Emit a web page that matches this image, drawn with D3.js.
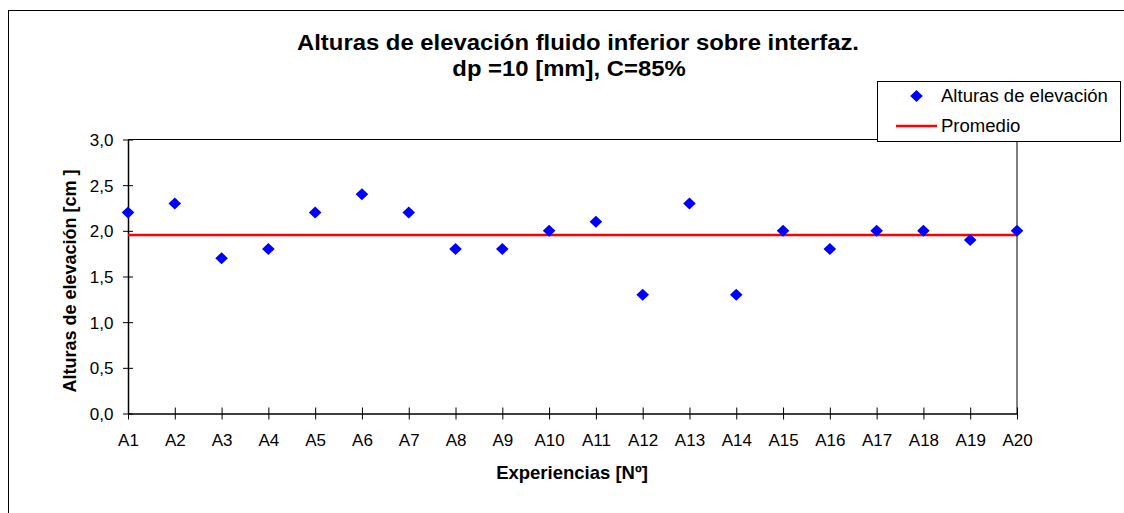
<!DOCTYPE html>
<html>
<head>
<meta charset="utf-8">
<script src="https://cdn.jsdelivr.net/npm/d3@7"></script>
<style>
  html, body { margin: 0; padding: 0; background: #fff; }
  svg { display: block; font-family: "Liberation Sans", Arial, sans-serif; }
</style>
</head>
<body>
<svg id="chart" width="1124" height="513"></svg>
<script>
const categories = ["A1","A2","A3","A4","A5","A6","A7","A8","A9","A10","A11","A12","A13","A14","A15","A16","A17","A18","A19","A20"];
const alturas = [2.2, 2.3, 1.7, 1.8, 2.2, 2.4, 2.2, 1.8, 1.8, 2.0, 2.1, 1.3, 2.3, 1.3, 2.0, 1.8, 2.0, 2.0, 1.9, 2.0];
const promedio = 1.955;
const yTicks = [0, 0.5, 1.0, 1.5, 2.0, 2.5, 3.0];
const titleLines = ["Alturas de elevación fluido inferior sobre interfaz.", "dp =10 [mm], C=85%"];
const xTitle = "Experiencias [Nº]";
const yTitle = "Alturas de elevación [cm ]";
const legendLabels = ["Alturas de elevación", "Promedio"];

const svg = d3.select("#chart");
const L = 128, R = 1017, T = 139.5, B = 413.5;

// outer border
svg.append("rect").attr("x", 8.5).attr("y", 10.5).attr("width", 1130).attr("height", 520)
  .attr("fill", "#fff").attr("stroke", "#000").attr("stroke-width", 1);

const x = d3.scalePoint().domain(categories).range([L, R]);
const y = d3.scaleLinear().domain([0, 3]).range([B, T]);

// plot area border (top & right)
svg.append("path").attr("d", `M${L},${T}H${R}V${B}`).attr("fill", "none")
  .attr("stroke", "#000").attr("stroke-width", 1);

// y axis
const yAxis = d3.axisLeft(y).tickValues(yTicks).tickSizeInner(5).tickSizeOuter(0)
  .tickFormat(d => d3.format(".1f")(d).replace(".", ","));
const gy = svg.append("g").attr("transform", `translate(${L},0)`).call(yAxis);
gy.select(".domain").attr("stroke", "#000").attr("stroke-width", 1.5);
gy.selectAll(".tick line").attr("x1", 5).attr("x2", -5).attr("stroke", "#000");
gy.selectAll(".tick text").attr("x", -14.5).attr("dy", "0.36em")
  .attr("font-size", "17px").attr("fill", "#000").attr("font-family", "Liberation Sans, Arial, sans-serif");

// x axis
const xAxis = d3.axisBottom(x).tickSizeInner(6).tickSizeOuter(0);
const gx = svg.append("g").attr("transform", `translate(0,${B})`).call(xAxis);
gx.select(".domain").attr("stroke", "#000").attr("stroke-width", 1.5);
gx.selectAll(".tick line").attr("y1", -6).attr("y2", 6).attr("stroke", "#000");
gx.selectAll(".tick text").attr("y", 32.5).attr("dy", 0)
  .attr("font-size", "17px").attr("fill", "#000").attr("font-family", "Liberation Sans, Arial, sans-serif");

// average line
svg.append("line").attr("x1", x(categories[0])).attr("x2", x(categories[categories.length - 1]))
  .attr("y1", y(promedio)).attr("y2", y(promedio))
  .attr("stroke", "#ff0000").attr("stroke-width", 2.5);

// diamonds
const dw = 6.3, dh = 6;
const diamond = (cx, cy) => `M${cx},${cy - dh}L${cx + dw},${cy}L${cx},${cy + dh}L${cx - dw},${cy}Z`;
svg.append("g").selectAll("path").data(alturas).join("path")
  .attr("d", (d, i) => diamond(x(categories[i]), y(d)))
  .attr("fill", "#0000ff");

// title (slightly widened like the reference)
svg.append("text").attr("transform", "translate(578,50) scale(1.085,1)").attr("text-anchor", "middle")
  .attr("font-size", "22px").attr("font-weight", "bold").text(titleLines[0]);
svg.append("text").attr("transform", "translate(569,76) scale(1.085,1)").attr("text-anchor", "middle")
  .attr("font-size", "22px").attr("font-weight", "bold").text(titleLines[1]);

// axis titles
svg.append("text").attr("x", 572).attr("y", 479).attr("text-anchor", "middle")
  .attr("font-size", "18.5px").attr("font-weight", "bold").text(xTitle);
svg.append("text").attr("transform", "translate(76,281) rotate(-90)").attr("text-anchor", "middle")
  .attr("font-size", "18px").attr("font-weight", "bold").text(yTitle);

// legend
const lg = svg.append("g");
lg.append("rect").attr("x", 877.5).attr("y", 81.5).attr("width", 243).attr("height", 60)
  .attr("fill", "#fff").attr("stroke", "#000").attr("stroke-width", 1);
lg.append("path").attr("d", diamond(916.5, 96)).attr("fill", "#0000ff");
lg.append("line").attr("x1", 896).attr("x2", 937).attr("y1", 126).attr("y2", 126)
  .attr("stroke", "#ff0000").attr("stroke-width", 2.5);
lg.append("text").attr("transform", "translate(941,102) scale(1.06,1)").attr("font-size", "17.5px").text(legendLabels[0]);
lg.append("text").attr("transform", "translate(941,132) scale(1.06,1)").attr("font-size", "17.5px").text(legendLabels[1]);
</script>
</body>
</html>
